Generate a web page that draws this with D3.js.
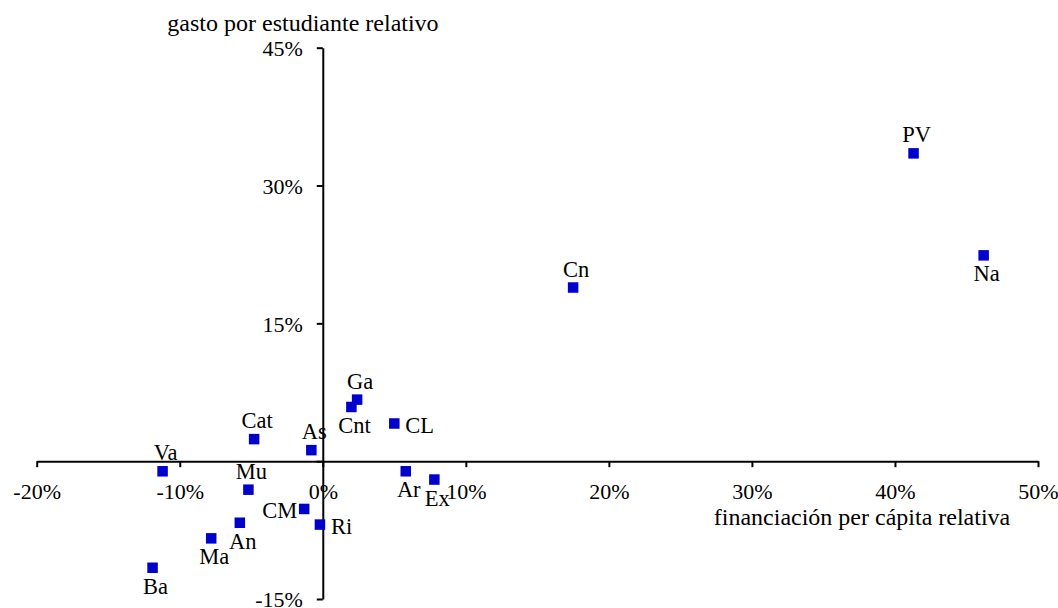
<!DOCTYPE html>
<html><head><meta charset="utf-8">
<script src="https://cdn.jsdelivr.net/npm/d3@7"></script>
<style>
html,body{margin:0;padding:0;background:#fff;}
svg{display:block;}
text{font-family:"Liberation Serif","Times New Roman",serif;fill:#000;}
</style></head>
<body>
<svg id="chart" width="1058" height="608"></svg>
<script>
// data
const regions = ["PV","Na","Cn","Ga","Cnt","CL","Cat","As","Va","Mu","Ar","Ex","CM","Ri","An","Ma","Ba"];
const financiacion = [41.3, 46.2, 17.5, 2.4, 2.0, 5.0, -4.8, -0.8, -11.2, -5.2, 5.8, 7.8, -1.3, -0.2, -5.8, -7.8, -11.9];
const gasto = [33.5, 22.4, 18.9, 6.7, 5.9, 4.1, 2.4, 1.2, -1.1, -3.1, -1.1, -2.0, -5.2, -6.9, -6.7, -8.4, -11.6];
const labelSide = ["top","bottom","top","top","bottom","right","top","top","top","top","bottom","bottom","left","right","bottom","bottom","bottom"];
const xTicks = [-20,-10,0,10,20,30,40,50];
const yTicks = [-15,0,15,30,45];
const xTitle = "financiación per cápita relativa";
const yTitle = "gasto por estudiante relativo";

const svg = d3.select("#chart");
const x = d3.scaleLinear().domain([-20,50]).range([36.7,1038]);
const y = d3.scaleLinear().domain([-15,45]).range([599,47.7]);
const fsTick = 22, fsTitle = 24, fsLabel = 22.5;

// x axis
const gx = svg.append("g").attr("transform",`translate(0,${y(0)})`)
  .call(d3.axisBottom(x).tickValues(xTicks).tickSize(6).tickSizeOuter(0).tickFormat(d=>d+"%"));
gx.select(".domain").attr("stroke","#000").attr("stroke-width",2);
gx.selectAll(".tick line").attr("stroke","#000").attr("stroke-width",2);
gx.selectAll(".tick text").attr("y",38).attr("dy",0).attr("font-size",fsTick)
  .attr("font-family","Liberation Serif").attr("fill","#000");

// y axis
const gy = svg.append("g").attr("transform",`translate(${x(0)},0)`)
  .call(d3.axisLeft(y).tickValues(yTicks).tickSize(6).tickSizeOuter(0).tickFormat(d=>d===0?"":d+"%"));
gy.select(".domain").attr("stroke","#000").attr("stroke-width",2);
gy.selectAll(".tick line").attr("stroke","#000").attr("stroke-width",2);
gy.selectAll(".tick text").attr("x",-20).attr("dy","0.36em").attr("font-size",fsTick)
  .attr("font-family","Liberation Serif").attr("fill","#000");

// titles
svg.append("text").attr("x",303).attr("y",31).attr("text-anchor","middle").attr("font-size",fsTitle).text(yTitle);
svg.append("text").attr("x",862).attr("y",525).attr("text-anchor","middle").attr("font-size",fsTitle).text(xTitle);

// points
const pts = regions.map((r,i)=>({r, fx:financiacion[i], gy:gasto[i], side:labelSide[i]}));
const ms = 10.5;
svg.append("g").selectAll("rect").data(pts).join("rect")
  .attr("x",d=>x(d.fx)-ms/2).attr("y",d=>y(d.gy)-ms/2)
  .attr("width",ms).attr("height",ms).attr("fill","#0000CC");

svg.append("g").selectAll("text").data(pts).join("text")
  .attr("font-size",fsLabel)
  .attr("text-anchor",d=>d.side==="left"?"end":d.side==="right"?"start":"middle")
  .attr("x",d=>{const px=x(d.fx); return d.side==="left"?px-7:d.side==="right"?px+11:px+3;})
  .attr("y",d=>{const py=y(d.gy); return d.side==="top"?py-11:d.side==="bottom"?py+26:py+9;})
  .text(d=>d.r);
</script>
</body></html>
